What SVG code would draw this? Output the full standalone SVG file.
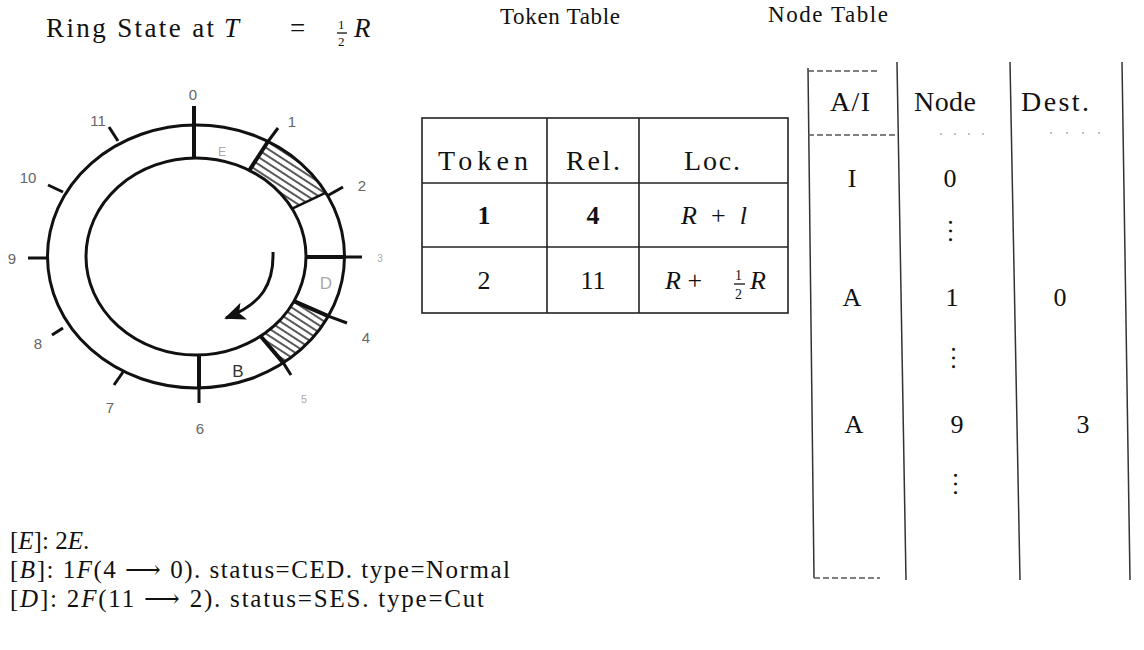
<svg xmlns="http://www.w3.org/2000/svg" width="1144" height="650" viewBox="0 0 1144 650">
<style>
text{font-family:"Liberation Serif","DejaVu Serif",serif;fill:#111}
.t{font-size:27px}
.cell{font-size:26px;text-anchor:middle}
.hd{font-size:28px}
.it{font-style:italic}
.b{font-weight:bold}
.lbl{font-family:"Liberation Sans","DejaVu Sans",sans-serif;font-size:15px;fill:#666;text-anchor:middle}
.faint{fill:#aaa}
.seg{font-family:"Liberation Sans","DejaVu Sans",sans-serif;font-size:17px;text-anchor:middle}
.ring{fill:none;stroke:#111;stroke-width:3}
.thick{stroke:#111;stroke-width:4;stroke-linecap:butt}
.tick{stroke:#111;stroke-width:3}
.grid{stroke:#222;stroke-width:1.6;fill:none}
.ngrid{stroke:#333;stroke-width:1.5;fill:none}
.dash{stroke:#555;stroke-width:1.3;stroke-dasharray:6 3;fill:none}
.leg{font-size:25px}
</style>
<defs>
<pattern id="hatch" patternUnits="userSpaceOnUse" width="6" height="6" patternTransform="rotate(33)">
<line x1="0" y1="3" x2="6" y2="3" stroke="#111" stroke-width="1.4"/>
</pattern>
<marker id="ah" markerWidth="22" markerHeight="18" refX="19" refY="9" orient="auto" markerUnits="userSpaceOnUse">
<path d="M0,0 L21,9 L0,18 L5,9 Z" fill="#111"/>
</marker>
</defs>
<rect width="1144" height="650" fill="#fff"/>

<!-- titles -->
<g id="title-ring">
<text class="t" x="46" y="37" textLength="168" lengthAdjust="spacing">Ring State at</text>
<text class="t it" x="224" y="37">T</text>
<text class="t" x="290" y="37">=</text>
<text x="338" y="29" style="font-size:13px">1</text>
<line x1="337" y1="33" x2="347" y2="33" stroke="#111" stroke-width="1.3"/>
<text x="338" y="46" style="font-size:13px">2</text>
<text class="t it" x="354" y="37">R</text>
</g>
<g id="title-token"><text x="500" y="24" style="font-size:23px" textLength="120" lengthAdjust="spacing">Token Table</text></g>
<g id="title-node"><text x="768" y="22" style="font-size:23px" textLength="120" lengthAdjust="spacing">Node Table</text></g>

<!-- ring -->
<g id="ring">
<path d="M249.3,170.4 L268,141.5 A148.5,131.5 0 0 1 325.9,192.7 L292.2,208.7 A110,98.5 0 0 0 249.3,170.4 Z" fill="url(#hatch)"/>
<path d="M294,301.2 L328.3,316.2 A148.5,131.5 0 0 1 283.3,362.9 L260.7,336.2 A110,98.5 0 0 0 294,301.2 Z" fill="url(#hatch)"/>
<ellipse class="ring" cx="196" cy="256.5" rx="148.5" ry="131.5"/>
<ellipse class="ring" cx="196" cy="256.5" rx="110" ry="98.5"/>
<line class="thick" x1="194" y1="158" x2="194" y2="106"/>
<line class="thick" x1="249.3" y1="170.4" x2="268" y2="141.5"/>
<line class="tick" x1="268" y1="141.5" x2="278" y2="128"/>
<line class="tick" x1="292.2" y1="208.7" x2="325.9" y2="192.7" style="stroke-width:2.5"/>
<line class="tick" x1="327" y1="196" x2="343" y2="187"/>
<line class="thick" x1="306" y1="257" x2="344.5" y2="257"/>
<line class="tick" x1="344.5" y1="257" x2="362" y2="257"/>
<line class="thick" x1="294" y1="301.2" x2="328.3" y2="316.2"/>
<line class="tick" x1="328.3" y1="316.2" x2="347" y2="323"/>
<line class="thick" x1="260.7" y1="336.2" x2="283.3" y2="362.9"/>
<line class="tick" x1="283.3" y1="362.9" x2="291" y2="375"/>
<line class="thick" x1="199" y1="355" x2="199" y2="388"/>
<line class="tick" x1="199" y1="388" x2="199" y2="403"/>
<line class="tick" x1="123" y1="372" x2="114" y2="385"/>
<line class="tick" x1="63" y1="328" x2="52" y2="335"/>
<line class="tick" x1="47.5" y1="258" x2="28" y2="258"/>
<line class="tick" x1="63" y1="192" x2="48" y2="185"/>
<line class="tick" x1="118" y1="141" x2="109" y2="127"/>
<text class="lbl" x="193" y="100">0</text>
<text class="lbl" x="292" y="127">1</text>
<text class="lbl" x="362" y="191">2</text>
<text class="lbl faint" x="380" y="262" style="font-size:10px">3</text>
<text class="lbl" x="366" y="343">4</text>
<text class="lbl faint" x="304" y="403" style="font-size:11px">5</text>
<text class="lbl" x="200" y="434">6</text>
<text class="lbl" x="110" y="413">7</text>
<text class="lbl" x="38" y="349">8</text>
<text class="lbl" x="12" y="264">9</text>
<text class="lbl" x="28" y="183">10</text>
<text class="lbl" x="98" y="126">11</text>
<text class="seg faint" x="222" y="156" style="font-size:12px">E</text>
<text class="seg faint" x="326" y="289">D</text>
<text class="seg" x="238" y="377" style="fill:#333">B</text>
</g>
<g id="connectors">
<path d="M273,252 C274,284 262,304 226,318" fill="none" stroke="#111" stroke-width="3" marker-end="url(#ah)"/>
</g>

<!-- token table -->
<g id="token-table">
<rect class="grid" x="422" y="118" width="366" height="195"/>
<line class="grid" x1="547" y1="118" x2="547" y2="313"/>
<line class="grid" x1="639" y1="118" x2="639" y2="313"/>
<line class="grid" x1="422" y1="183" x2="788" y2="183"/>
<line class="grid" x1="422" y1="247" x2="788" y2="247"/>
<text class="cell hd" x="483" y="170" textLength="90" lengthAdjust="spacing">Token</text>
<text class="cell hd" x="593" y="170" textLength="54" lengthAdjust="spacing">Rel.</text>
<text class="cell hd" x="712" y="170" textLength="56" lengthAdjust="spacing">Loc.</text>
<text class="cell b" x="484" y="224">1</text>
<text class="cell b" x="593" y="224">4</text>
<text class="cell" x="714" y="224" textLength="66" lengthAdjust="spacing"><tspan class="it">R</tspan> + <tspan class="it">l</tspan></text>
<text class="cell" x="484" y="289">2</text>
<text class="cell" x="593" y="289">11</text>
<text x="665" y="289" style="font-size:26px"><tspan class="it">R</tspan> +</text>
<text x="735" y="280" style="font-size:14px">1</text>
<line x1="734" y1="284" x2="745" y2="284" stroke="#111" stroke-width="1.3"/>
<text x="735" y="299" style="font-size:14px">2</text>
<text class="it" x="750" y="289" style="font-size:26px">R</text>
</g>

<!-- node table -->
<g id="node-table">
<line class="ngrid" x1="808" y1="68" x2="814" y2="578"/>
<line class="ngrid" x1="897" y1="62" x2="906" y2="580"/>
<line class="ngrid" x1="1010" y1="62" x2="1020" y2="580"/>
<line class="ngrid" x1="1122" y1="62" x2="1130" y2="580"/>
<line class="dash" x1="808" y1="71" x2="878" y2="71"/>
<line class="dash" x1="808" y1="135" x2="897" y2="135"/>
<line x1="940" y1="134" x2="990" y2="134" stroke="#888" stroke-width="1.2" stroke-dasharray="2 12"/>
<line x1="1050" y1="133" x2="1110" y2="133" stroke="#888" stroke-width="1.2" stroke-dasharray="2 14"/>
<line class="dash" x1="814" y1="578" x2="880" y2="578"/>
<text class="cell hd" x="850" y="111" textLength="40" lengthAdjust="spacing">A/I</text>
<text class="cell hd" x="945" y="111" textLength="62" lengthAdjust="spacing">Node</text>
<text class="cell hd" x="1055" y="111" textLength="68" lengthAdjust="spacing">Dest.</text>
<text class="cell" x="852" y="187">I</text>
<text class="cell" x="950" y="187">0</text>
<text class="cell" x="955" y="237" transform="rotate(90 955 231)">…</text>
<text class="cell" x="852" y="306">A</text>
<text class="cell" x="952" y="306">1</text>
<text class="cell" x="1060" y="306">0</text>
<text class="cell" x="958" y="364" transform="rotate(90 958 358)">…</text>
<text class="cell" x="854" y="433">A</text>
<text class="cell" x="957" y="433">9</text>
<text class="cell" x="1083" y="433">3</text>
<text class="cell" x="960" y="490" transform="rotate(90 960 484)">…</text>
</g>

<!-- legend -->
<g id="legend">
<text class="leg" x="10" y="549">[<tspan class="it">E</tspan>]: 2<tspan class="it">E</tspan>.</text>
<text class="leg" x="10" y="578" textLength="500" lengthAdjust="spacing">[<tspan class="it">B</tspan>]: 1<tspan class="it">F</tspan>(4 ⟶ 0). status=CED. type=Normal</text>
<text class="leg" x="10" y="607" textLength="474" lengthAdjust="spacing">[<tspan class="it">D</tspan>]: 2<tspan class="it">F</tspan>(11 ⟶ 2). status=SES. type=Cut</text>
</g>
</svg>
